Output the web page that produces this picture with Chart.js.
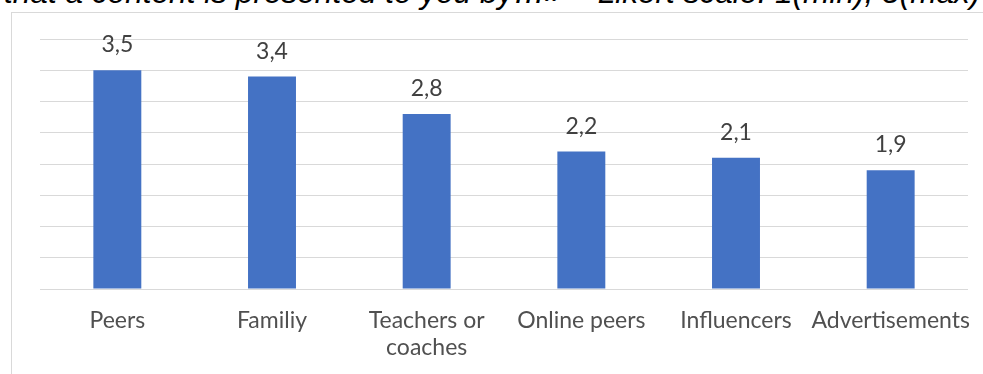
<!DOCTYPE html>
<html>
<head>
<meta charset="utf-8">
<script src="https://cdn.jsdelivr.net/npm/chart.js@4"></script>
<style>
    html, body { margin: 0; padding: 0; background: #fff; overflow: hidden; }
    #wrap { position: relative; width: 983px; height: 374px; }
    #title {
        position: absolute; left: 4px; top: -25px; white-space: nowrap;
        font: italic 31.6px "Liberation Sans", Arial, sans-serif; line-height: 34px; color: #000;
    }
    #frame {
        position: absolute; left: 11px; top: 12px; width: 1000px; height: 400px;
        border: 1px solid #d9d9d9; box-sizing: border-box; background: #fff;
    }
    #box { position: absolute; left: 0; top: 0; width: 983px; height: 374px; }
</style>
</head>
<body>
<div id="wrap">
    <div id="title">that a content is presented to you by…» – Likert scale: 1(min); 5(max)</div>
    <div id="frame"></div>
    <div id="box"><canvas id="chart"></canvas></div>
</div>
<script>
// Data
const categories = ['Peers', 'Familiy', ['Teachers or', 'coaches'], 'Online peers', 'Influencers', 'Advertisements'];
const scores = [3.5, 3.4, 2.8, 2.2, 2.1, 1.9];

// Draw the value above each bar (comma decimals)
const valueLabels = {
    id: 'valueLabels',
    afterDatasetsDraw(chart) {
        const ctx = chart.ctx;
        const meta = chart.getDatasetMeta(0);
        ctx.save();
        ctx.font = '23px Lato';
        ctx.fillStyle = '#404040';
        ctx.textAlign = 'center';
        ctx.textBaseline = 'alphabetic';
        meta.data.forEach((bar, i) => {
            ctx.fillText(scores[i].toFixed(1).replace('.', ','), bar.x, bar.y - 18);
        });
        ctx.restore();
    }
};

const ctx = document.getElementById('chart').getContext('2d');
const chart = new Chart(ctx, {
    type: 'bar',
    data: {
        labels: categories,
        datasets: [{
            data: scores,
            backgroundColor: '#4472c4',
            borderWidth: 0,
            barPercentage: 0.31,
            categoryPercentage: 1
        }]
    },
    options: {
        responsive: true,
        maintainAspectRatio: false,
        animation: false,
        layout: { padding: { left: 40, right: 15, top: 39, bottom: 0 } },
        plugins: {
            legend: { display: false },
            tooltip: { enabled: false }
        },
        scales: {
            x: {
                grid: { display: false, drawTicks: false },
                border: { display: false },
                ticks: {
                    color: '#505050',
                    font: { family: 'Lato', size: 23, lineHeight: 1.18 },
                    padding: 18,
                    maxRotation: 0,
                    autoSkip: false
                },
                afterFit(scale) {
                    scale.height = 85;
                    // long end labels must not shrink the plot area
                    scale.paddingLeft = 0;
                    scale.paddingRight = 0;
                }
            },
            y: {
                min: 0,
                max: 4,
                ticks: { stepSize: 0.5, display: false },
                grid: { color: '#d9d9d9', lineWidth: 1, drawTicks: false },
                border: { display: false },
                afterFit(scale) { scale.width = 0; }
            }
        }
    },
    plugins: [valueLabels]
});
</script>
</body>
</html>
